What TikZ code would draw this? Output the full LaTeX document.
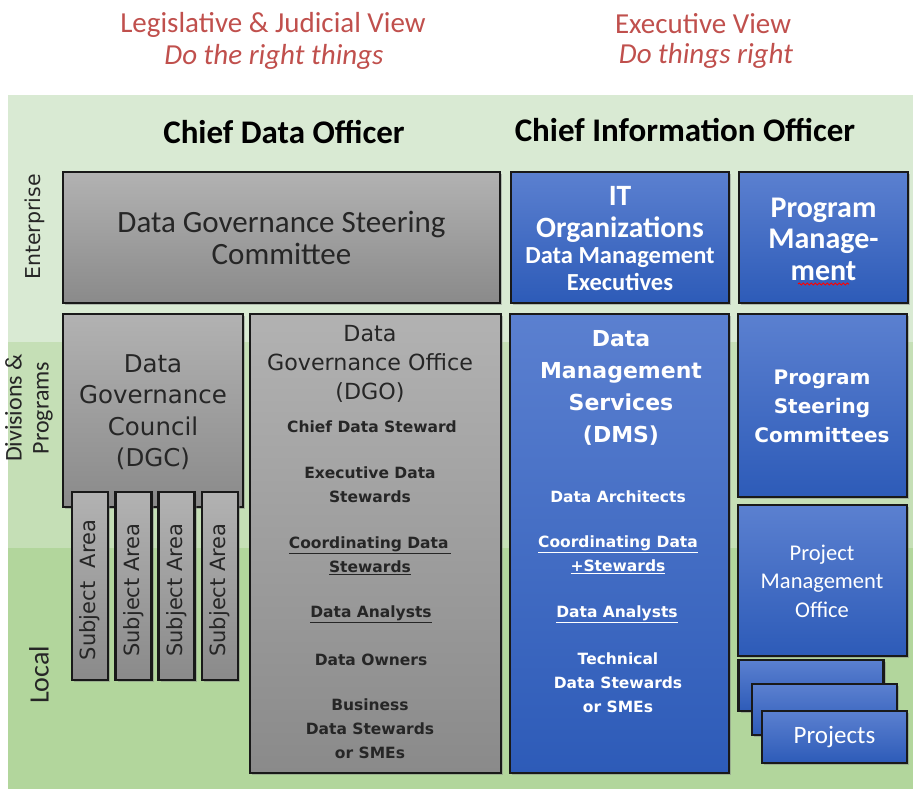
\documentclass[tikz,border=0pt]{standalone}
\usepackage{fontspec}
\setmainfont{Carlito}
\newfontfamily\tahoma{DejaVu Sans}
\usetikzlibrary{positioning,shadows,decorations.pathmorphing}
\definecolor{viewred}{HTML}{C0504D}
\definecolor{bandtop}{HTML}{D9EAD3}
\definecolor{bandmid}{HTML}{C5DFB6}
\definecolor{bandlow}{HTML}{B2D69C}
\definecolor{greytop}{HTML}{B2B2B2}
\definecolor{greybot}{HTML}{8A8A8A}
\definecolor{bluetop}{HTML}{5B80D0}
\definecolor{bluebot}{HTML}{2D5BB8}
\definecolor{greytext}{HTML}{262626}

\begin{document}
\begin{tikzpicture}[x=1pt, y=-1pt,
    greybox/.style={draw=black!90, line width=2.4pt, rectangle, inner sep=0pt,
        top color=greytop, bottom color=greybot,
        drop shadow={shadow xshift=2pt, shadow yshift=-2pt, opacity=.45}},
    bluebox/.style={draw=black!90, line width=2.4pt, rectangle, inner sep=0pt,
        top color=bluetop, bottom color=bluebot,
        drop shadow={shadow xshift=2pt, shadow yshift=-2pt, opacity=.45}},
    subjbox/.style={greybox, minimum width=36pt, minimum height=188pt},
    projbox/.style={bluebox, minimum width=145pt, minimum height=51pt},
    item/.style={text=greytext, font=\tahoma\bfseries\fontsize{15.5}{24}\selectfont, align=center},
    bitem/.style={text=white, font=\tahoma\bfseries\fontsize{15.5}{24}\selectfont, align=center}]
    \useasboundingbox (0,0) rectangle (913,789);

    % bands
    \fill[bandtop] (8,95) rectangle (913,789);
    \fill[bandmid] (8,342) rectangle (913,548);
    \fill[bandlow] (8,548) rectangle (913,789);

    % views
    \node (leg) at (273,25) [text=viewred, font=\fontsize{29}{34}\selectfont] {Legislative \& Judicial View};
    \node (legsub) at (274,57) [text=viewred, font=\itshape\fontsize{29}{34}\selectfont] {Do the right things};
    \node (exe) at (703,24) [text=viewred, font=\fontsize{29}{34}\selectfont] {Executive View};
    \node (exesub) at (706,56) [text=viewred, font=\itshape\fontsize{29}{34}\selectfont] {Do things right};

    \node (cdo) at (284,132) [font=\bfseries\fontsize{33}{38}\selectfont] {Chief Data Officer};
    \node (cio) at (685,130) [font=\bfseries\fontsize{33}{38}\selectfont] {Chief Information Officer};

    % row labels
    \node (ent) at (35,227) [rotate=90, text=greytext, font=\tahoma\fontsize{20.5}{24}\selectfont] {Enterprise};
    \node (div) at (29,408) [rotate=90, align=center, text=greytext, font=\fontsize{24}{27}\selectfont] {Divisions \&\\Programs};
    \node (loc) at (39,675) [rotate=90, text=greytext, font=\fontsize{28}{30}\selectfont] {Local};

    % enterprise row
    \node (dgsc) at (281.5,237.5) [greybox, minimum width=437pt, minimum height=131pt,
        align=center, text=greytext, font=\fontsize{31}{32}\selectfont] {Data Governance Steering\\Committee};
    \node (itorg) at (620,237.5) [bluebox, minimum width=218pt, minimum height=131pt] {};
    \node (itorg_txt) at (620,239) [text=white, align=center, font=\bfseries\fontsize{29.5}{33}\selectfont]
        {IT\\[-1pt]Organizations\\[-7pt]{\fontsize{24.5}{28}\selectfont Data Management}\\[-6pt]{\fontsize{24.5}{28}\selectfont Executives}};
    \node (pgm) at (823.5,237.5) [bluebox, minimum width=169pt, minimum height=131pt] {};
    \node (pgm_txt) at (823.5,239) [text=white, align=center, font=\bfseries\fontsize{30}{31.5}\selectfont] {Program\\Manage-\\ment};
    \draw[red, line width=1pt, decorate, decoration={snake, amplitude=1pt, segment length=4pt}]
        (798,284) -- (849,284);

    % council and subject areas
    \node (dgc) at (153,410.5) [greybox, minimum width=180pt, minimum height=193pt] {};
    \node (dgc_txt) at (153,412) [text=greytext, align=center, font=\tahoma\fontsize{24.5}{31.5}\selectfont]
        {Data\\Governance\\Council\\(DGC)};
    \foreach \x/\s [count=\i] in {90/Subject\ \ Area, 133.5/Subject Area, 176.5/Subject Area, 220/Subject Area} {
        \node (sa\i) at (\x,586) [subjbox] {};
        \node (sa\i_txt) at (\x,590) [rotate=90, text=greytext, font=\tahoma\fontsize{21}{24}\selectfont] {\s};
    }

    % governance office
    \node (dgo) at (375.5,543.5) [greybox, minimum width=251pt, minimum height=459pt] {};
    \node (dgo_txt) at (370,364) [text=greytext, align=center, font=\tahoma\fontsize{22.2}{29}\selectfont]
        {Data\\Governance Office\\(DGO)};
    \node (cds) at (372,427) [item] {Chief Data Steward};
    \node (eds) at (370,485) [item] {Executive Data\\Stewards};
    \node (cods) at (370,556) [item] {\underline{Coordinating Data\,}\\\underline{Stewards}};
    \node (da1) at (371,614) [item] {\underline{Data Analysts}};
    \node (dow) at (371,660) [item] {Data Owners};
    \node (bds) at (370,729) [item] {Business\\Data Stewards\\or SMEs};

    % management services
    \node (dms) at (619.5,543.5) [bluebox, minimum width=219pt, minimum height=459pt] {};
    \node (dms_txt) at (621,388) [text=white, align=center, font=\tahoma\bfseries\fontsize{22}{32}\selectfont]
        {Data\\Management\\Services\\(DMS)};
    \node (arch) at (618,497) [bitem] {Data Architects};
    \node (cods2) at (618,555) [bitem] {\underline{Coordinating Data}\\\underline{+Stewards}};
    \node (da2) at (617,614) [bitem] {\underline{Data Analysts}};
    \node (tds) at (618,683) [bitem] {Technical\\Data Stewards\\or SMEs};

    % programs and projects
    \node (psc) at (822.5,405.5) [bluebox, minimum width=169pt, minimum height=183pt] {};
    \node (psc_txt) at (822,406) [text=white, align=center, font=\tahoma\bfseries\fontsize{20}{29}\selectfont]
        {Program\\Steering\\Committees};
    \node (pmo) at (822.5,580.5) [bluebox, minimum width=169pt, minimum height=151pt] {};
    \node (pmo_txt) at (822,581) [text=white, align=center, font=\fontsize{22.5}{28.5}\selectfont]
        {Project\\Management\\Office};
    \node (proj1) at (811,685.5) [projbox] {};
    \node (proj2) at (824.5,709.5) [projbox] {};
    \node (proj3) at (834.5,737) [projbox, minimum height=52pt, text=white, font=\fontsize{25}{28}\selectfont] {Projects};
\end{tikzpicture}
\end{document}
